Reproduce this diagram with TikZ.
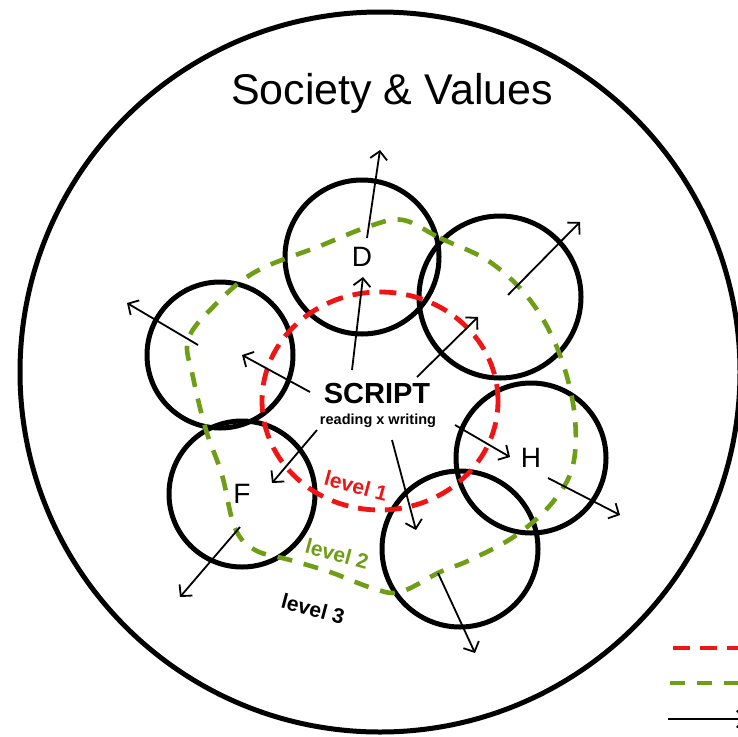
\documentclass[tikz,border=0pt]{standalone}
\usepackage{fontspec}
\setmainfont{Liberation Sans}
\usetikzlibrary{arrows.meta}
\definecolor{redc}{RGB}{240,20,20}
\definecolor{greenc}{RGB}{110,158,22}
\begin{document}
\begin{tikzpicture}[x=1pt,y=-1pt,
  ring/.style={circle, draw, line width=5pt, inner sep=0pt, font=\fontsize{28}{32}\selectfont},
  arr/.style={line width=1.8pt, -{Straight Barb[length=8pt,width=17pt,line width=1.8pt]}},
  lvl/.style={font=\bfseries\fontsize{21}{24}\selectfont, rotate=-15, inner sep=0pt},
  redd/.style={draw=redc, line width=4.8pt, dash pattern=on 17pt off 10pt},
  greend/.style={draw=greenc, line width=4.6pt, dash pattern=on 15pt off 12pt}]
\useasboundingbox (0,0) rectangle (738,736);
\fill[white] (0,0) rectangle (738,736);
\clip (0,0) rectangle (738,736);

% outer circle
\node[circle, draw, line width=5pt, minimum size=720pt, inner sep=0pt] (society) at (380,372) {};
\node[font=\fontsize{43}{48}\selectfont, anchor=base] (title) at (392,104) {Society \& Values};

% small circles
\node[ring, minimum size=154pt] (D) at (362,257) {D};
\node[ring, minimum size=162pt] (U) at (500,297) {};
\node[ring, minimum size=146pt] (L) at (220,355) {};
\node[ring, minimum size=146pt] (F) at (242,494) {F};
\node[ring, minimum size=150pt] (H) at (531,458) {H};
\node[ring, minimum size=156pt] (B) at (460,549) {};

% level 1 (red)
\draw[redd] (380,401) ellipse [x radius=118pt, y radius=109pt];
% level 2 (green)
\draw[greend] plot[smooth cycle, tension=0.6] coordinates {
 (403,220) (440,238) (490,262) (530,300) (558,350) (574,410) (573,465)
 (552,503) (515,536) (470,560) (440,572) (400,592) (372,588) (330,572)
 (290,560) (255,550) (235,528) (222,475) (206,430) (193,377) (188,340)
 (213,307) (255,272) (320,246) (370,226)};

% labels
\node[font=\bfseries\fontsize{29}{32}\selectfont, anchor=base] (script) at (377,403) {SCRIPT};
\node[font=\bfseries\fontsize{14.5}{16}\selectfont, anchor=base] (rw) at (378,424) {reading x writing};
\node[lvl, text=redc] (l1) at (356,486) {level 1};
\node[lvl, text=greenc] (l2) at (337,554) {level 2};
\node[lvl] (l3) at (313,609) {level 3};

% arrow end points
\coordinate (sD) at (352,370);   \coordinate (tD) at (363,277);
\coordinate (oD) at (367,238);   \coordinate (xD) at (380,150);
\coordinate (sU) at (417,377);   \coordinate (tU) at (478,317);
\coordinate (oU) at (508,295);   \coordinate (xU) at (580,222);
\coordinate (sL) at (310,392);   \coordinate (tL) at (242,355);
\coordinate (oL) at (198,345);   \coordinate (xL) at (127,303);
\coordinate (sF) at (317,430);   \coordinate (tF) at (272,483);
\coordinate (oF) at (240,527);   \coordinate (xF) at (180,597);
\coordinate (sB) at (392,440);   \coordinate (tB) at (416,530);
\coordinate (oB) at (438,573);   \coordinate (xB) at (475,653);
\coordinate (sH) at (455,425);   \coordinate (tH) at (510,457);
\coordinate (oH) at (548,478);   \coordinate (xH) at (620,515);

\draw[arr] (sD) -- (tD);  \draw[arr] (oD) -- (xD);
\draw[arr] (sU) -- (tU);  \draw[arr] (oU) -- (xU);
\draw[arr] (sL) -- (tL);  \draw[arr] (oL) -- (xL);
\draw[arr] (sF) -- (tF);  \draw[arr] (oF) -- (xF);
\draw[arr] (sB) -- (tB);  \draw[arr] (oB) -- (xB);
\draw[arr] (sH) -- (tH);  \draw[arr] (oH) -- (xH);

% legend (cut off at the right edge)
\coordinate (k1a) at (673,648); \coordinate (k1b) at (760,648);
\coordinate (k2a) at (670,683); \coordinate (k2b) at (760,683);
\coordinate (k3a) at (668,719); \coordinate (k3b) at (746,719);
\draw[redd] (k1a) -- (k1b);
\draw[greend] (k2a) -- (k2b);
\draw[arr] (k3a) -- (k3b);
\end{tikzpicture}
\end{document}
